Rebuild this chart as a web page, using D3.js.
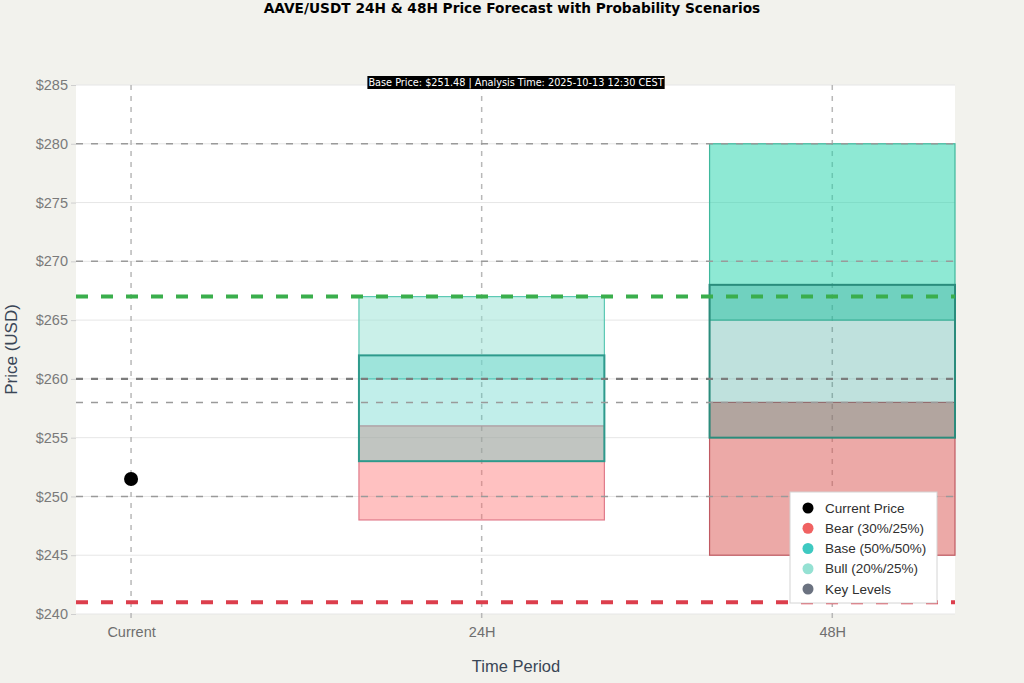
<!DOCTYPE html>
<html>
<head>
<meta charset="utf-8">
<script src="https://cdn.jsdelivr.net/npm/d3@7"></script>
<style>
  html, body { margin: 0; padding: 0; background: #f2f2ed; }
  svg { display: block; }
</style>
</head>
<body>
<svg id="chart" width="1024" height="683"></svg>
<script>
// ---- data ----
const categories = ["Current", "24H", "48H"];
const yTicks = [240, 245, 250, 255, 260, 265, 270, 275, 280, 285];
const currentPrice = 251.48;
// scenario ranges [low, high] per period
const periods = ["24H", "48H"];
const bearLow  = [248, 245];
const bearHigh = [256, 258];
const baseLow  = [253, 255];
const baseHigh = [262, 268];
const bullLow  = [260, 265];
const bullHigh = [267, 280];
const keyLevels = [280, 270, 260, 258, 250];
const resistanceLevel = 267;
const supportLevel = 241;
const legendLabels = ["Current Price", "Bear (30%/25%)", "Base (50%/50%)", "Bull (20%/25%)", "Key Levels"];
const titleText = "AAVE/USDT 24H & 48H Price Forecast with Probability Scenarios";
const annotationText = "Base Price: $251.48 | Analysis Time: 2025-10-13 12:30 CEST";

// ---- layout ----
const W = 1024, H = 683;
const L = 76, R = 955, T = 85, B = 614;
const svg = d3.select("#chart");
const font = "'Liberation Sans', Arial, sans-serif";

const x = d3.scaleLinear().domain([-0.157, 2.35]).range([L, R]);
const y = d3.scaleLinear().domain([240, 285]).range([B, T]);
const barHalf = 0.35;

// plot background
svg.append("rect").attr("x", L).attr("y", T).attr("width", R - L).attr("height", B - T).attr("fill", "#ffffff");

// horizontal gridlines
svg.append("g").selectAll("line").data(yTicks).join("line")
  .attr("x1", L).attr("x2", R)
  .attr("y1", d => y(d)).attr("y2", d => y(d))
  .attr("stroke", "#e6e6e6").attr("stroke-width", 1);

// vertical category gridlines (dashed)
svg.append("g").selectAll("line").data(categories).join("line")
  .attr("x1", (d, i) => x(i)).attr("x2", (d, i) => x(i))
  .attr("y1", T).attr("y2", B + 7)
  .attr("stroke", "#b8b8b8").attr("stroke-width", 1.5)
  .attr("stroke-dasharray", "5,6");

// y axis
const yAxis = d3.axisLeft(y).tickValues(yTicks).tickFormat(d => "$" + d).tickSize(5).tickPadding(3);
const gy = svg.append("g").attr("transform", `translate(${L},0)`).call(yAxis);
gy.select(".domain").remove();
gy.selectAll(".tick line").attr("stroke", "#cfcfcf");
gy.selectAll(".tick text").attr("fill", "#7a7a7a").style("font-family", font).style("font-size", "14.5px");

// x axis
const xAxis = d3.axisBottom(x).tickValues([0, 1, 2]).tickFormat(i => categories[i]).tickSize(0).tickPadding(13);
const gx = svg.append("g").attr("transform", `translate(0,${B})`).call(xAxis);
gx.select(".domain").remove();
gx.selectAll(".tick text").attr("fill", "#6f6f6f").style("font-family", font).style("font-size", "14.5px");

// scenario rectangles
const rectStyles = {
  bear: [{fill: "#ff6b6b", op: 0.42, stroke: "#e07a8a", sw: 1.2}, {fill: "#d9534f", op: 0.5, stroke: "#c05a62", sw: 1.2}],
  bull: [{fill: "#95e1d3", op: 0.5, stroke: "#5cc9b4", sw: 1.2}, {fill: "#1ed3a9", op: 0.5, stroke: "#3fb89c", sw: 1.2}],
  base: [{fill: "#4ecdc4", op: 0.35, stroke: "#2e9a8c", sw: 2}, {fill: "#2a9d8f", op: 0.3, stroke: "#2a8c7c", sw: 2}]
};
const scen = [
  {key: "bear", lo: bearLow, hi: bearHigh},
  {key: "bull", lo: bullLow, hi: bullHigh},
  {key: "base", lo: baseLow, hi: baseHigh}
];
const gRects = svg.append("g");
scen.forEach(s => {
  periods.forEach((p, i) => {
    const ci = categories.indexOf(p);
    const st = rectStyles[s.key][i];
    gRects.append("rect")
      .attr("x", x(ci - barHalf))
      .attr("y", y(s.hi[i]))
      .attr("width", x(ci + barHalf) - x(ci - barHalf))
      .attr("height", y(s.lo[i]) - y(s.hi[i]))
      .attr("fill", st.fill).attr("fill-opacity", st.op)
      .attr("stroke", st.stroke).attr("stroke-width", st.sw);
  });
});

// key levels
svg.append("g").selectAll("line").data(keyLevels).join("line")
  .attr("x1", L).attr("x2", R)
  .attr("y1", d => y(d)).attr("y2", d => y(d))
  .attr("stroke", d => d === 260 ? "#7c7c7c" : "#9a9a9a")
  .attr("stroke-width", d => d === 260 ? 2.4 : 1.5)
  .attr("stroke-dasharray", "7,8");

// support / resistance
svg.append("line").attr("x1", L).attr("x2", R)
  .attr("y1", y(resistanceLevel)).attr("y2", y(resistanceLevel))
  .attr("stroke", "#3aae4c").attr("stroke-width", 4).attr("stroke-dasharray", "12,13");
svg.append("line").attr("x1", L).attr("x2", R)
  .attr("y1", y(supportLevel)).attr("y2", y(supportLevel))
  .attr("stroke", "#dc3e4c").attr("stroke-width", 4).attr("stroke-dasharray", "12,13");

// current price point
svg.append("circle").attr("cx", x(0)).attr("cy", y(currentPrice)).attr("r", 7).attr("fill", "#000");

// title
svg.append("text").attr("x", 512).attr("y", 13).attr("text-anchor", "middle")
  .style("font-family", "'DejaVu Sans', sans-serif").style("font-weight", "bold").style("font-size", "13.7px")
  .attr("fill", "#000").text(titleText);

// annotation
const ann = svg.append("g");
const annText = ann.append("text").attr("x", 516).attr("y", 86).attr("text-anchor", "middle")
  .style("font-family", "'DejaVu Sans Condensed', 'DejaVu Sans', sans-serif").style("font-stretch", "condensed")
  .style("font-size", "10.8px").attr("fill", "#fff").text(annotationText);
const bb = annText.node().getBBox();
ann.insert("rect", "text").attr("x", bb.x - 1).attr("y", 76).attr("width", bb.width + 2).attr("height", 13).attr("fill", "#000");

// axis titles
svg.append("text").attr("transform", `translate(17,${(T + B) / 2}) rotate(-90)`).attr("text-anchor", "middle")
  .style("font-family", font).style("font-size", "17px").attr("fill", "#3a4656").text("Price (USD)");
svg.append("text").attr("x", 516).attr("y", 672).attr("text-anchor", "middle")
  .style("font-family", font).style("font-size", "16.5px").attr("fill", "#3a4656").text("Time Period");

// legend
const legendColors = ["#000000", "#f06262", "#3ec9c1", "#95e1d3", "#6b7280"];
const lg = svg.append("g");
lg.append("rect").attr("x", 790).attr("y", 492).attr("width", 147).attr("height", 111)
  .attr("fill", "#fff").attr("stroke", "#d4d4d4").attr("stroke-width", 1);
const ly = d3.scalePoint().domain(legendLabels).range([508, 589]);
legendLabels.forEach((lab, i) => {
  lg.append("circle").attr("cx", 808).attr("cy", ly(lab)).attr("r", 5.5).attr("fill", legendColors[i]);
  lg.append("text").attr("x", 825).attr("y", ly(lab) + 4.5)
    .style("font-family", font).style("font-size", "13.5px").attr("fill", "#2f2f2f").text(lab);
});
</script>
</body>
</html>
